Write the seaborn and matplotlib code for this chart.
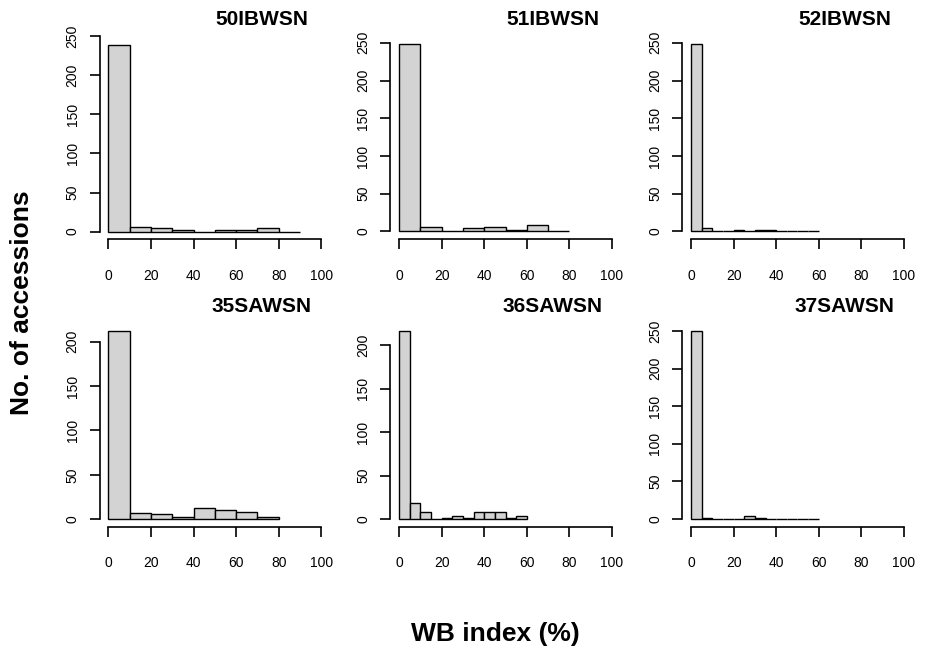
import numpy as np
import pandas as pd
import matplotlib
matplotlib.use("Agg")
import matplotlib.pyplot as plt
import seaborn as sns

# ---- data ----
panel_names = ["50IBWSN", "51IBWSN", "52IBWSN", "35SAWSN", "36SAWSN", "37SAWSN"]
bin_widths = [10, 10, 5, 10, 5, 5]
counts_50IBWSN = [239, 6, 4, 2, 0, 2, 2, 4, 0]
counts_51IBWSN = [249, 6, 0, 4, 6, 2, 8, 0]
counts_52IBWSN = [249, 4, 0, 0, 2, 0, 2, 2, 0, 0, 0, 0]
counts_35SAWSN = [212, 7, 6, 2, 13, 10, 8, 2]
counts_36SAWSN = [216, 19, 8, 0, 1, 4, 1, 8, 8, 8, 1, 4]
counts_37SAWSN = [250, 2, 0, 0, 0, 4, 2, 0, 0, 0, 0, 0]
all_counts = [counts_50IBWSN, counts_51IBWSN, counts_52IBWSN,
              counts_35SAWSN, counts_36SAWSN, counts_37SAWSN]
y_tick_max = [250, 250, 250, 200, 200, 250]
x_ticks = [0, 20, 40, 60, 80, 100]
x_label = "WB index (%)"
y_label = "No. of accessions"

sns.set_theme(style="white")
plt.rcParams["font.family"] = ["Liberation Sans", "DejaVu Sans"]

fig = plt.figure(figsize=(9.29, 6.49), dpi=100)
W, H = 929.0, 649.0
col_left = [99.8, 390.5, 682.5]
row_top = [36.0, 323.6]
ax_w = 230.0
ax_h = 203.0

for i, (name, bw, counts, ytm) in enumerate(zip(panel_names, bin_widths, all_counts, y_tick_max)):
    r, c = divmod(i, 3)
    left = col_left[c] / W
    bottom = 1 - (row_top[r] + ax_h) / H
    ax = fig.add_axes([left, bottom, ax_w / W, ax_h / H])
    counts = np.asarray(counts, dtype=float)
    edges = [float(e) for e in np.arange(0, bw * (len(counts) + 1), bw)]
    centers = [e + bw / 2 for e in edges[:-1]]
    df = pd.DataFrame({"x": centers, "n": counts})
    sns.histplot(data=df, x="x", weights="n", bins=edges, ax=ax,
                 color="#D3D3D3", edgecolor="black", linewidth=1.0, alpha=1)
    m = counts.max()
    ax.set_xlim(-4, 104)
    ax.set_ylim(-0.04 * m, max(1.04 * m, ytm + 0.5))
    ax.set_xticks(x_ticks)
    ax.set_yticks(np.arange(0, ytm + 1, 50))
    ax.set_xlabel("")
    ax.set_ylabel("")
    for s in ["top", "right"]:
        ax.spines[s].set_visible(False)
    ax.spines["left"].set_bounds(0, ytm)
    ax.spines["bottom"].set_bounds(0, 100)
    for s in ["left", "bottom"]:
        ax.spines[s].set_linewidth(1.2)
        ax.spines[s].set_color("black")
    ax.tick_params(axis="both", direction="out", length=7, width=1.2,
                   color="black", labelsize=10, labelcolor="black",
                   left=True, bottom=True)
    ax.tick_params(axis="x", pad=14.5)
    ax.tick_params(axis="y", pad=7.5)
    for lab in ax.get_yticklabels():
        lab.set_rotation(90)
        lab.set_va("center")
    ax.grid(False)
    ax.set_facecolor("white")
    ax.text(0.705, 1.083, name, transform=ax.transAxes, ha="center", va="center",
            fontsize=15, fontweight="bold", color="black")

fig.text(22 / W, 1 - 303 / H, y_label, rotation=90, ha="center", va="center",
         fontsize=19, fontweight="bold", color="black")
fig.text(495.5 / W, 1 - 634 / H, x_label, ha="center", va="center",
         fontsize=19, fontweight="bold", color="black")

fig.savefig("out.png", dpi=100, facecolor="white")
